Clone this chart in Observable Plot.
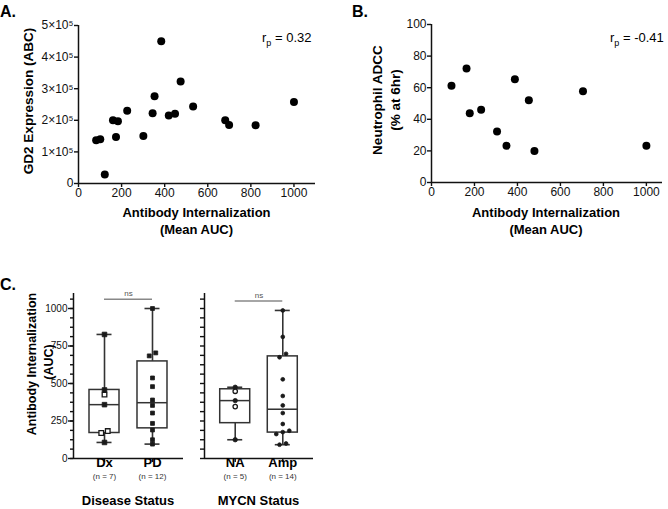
<!DOCTYPE html>
<html>
<head>
<meta charset="utf-8">
<script src="https://cdn.jsdelivr.net/npm/d3@7"></script>
<script src="https://cdn.jsdelivr.net/npm/@observablehq/plot@0.6"></script>
<style>
html,body{margin:0;padding:0;background:#fff;}
#root{position:relative;width:668px;height:509px;overflow:hidden;background:#fff;}
#root svg{position:absolute;overflow:visible;}
#root svg g[aria-label$="axis tick"] path{stroke-width:1.4px;}
</style>
</head>
<body>
<div id="root"></div>
<script>
// ---------- Panel A data ----------
const panelA_internalization = [82, 101, 122, 160, 174, 183, 226, 301, 344, 353, 384, 419, 448, 474, 532, 681, 699, 822, 1000];
const panelA_gd2 = [137000, 140000, 28500, 200000, 147000, 197000, 230000, 150000, 222000, 276000, 450000, 215000, 221000, 323000, 244000, 200000, 185000, 184000, 258000];
const panelA_r = "0.32";
// ---------- Panel B data ----------
const panelB_internalization = [93, 163, 178, 231, 305, 349, 388, 453, 479, 705, 1000];
const panelB_adcc = [61.2, 72.2, 43.9, 46.0, 32.3, 23.2, 65.4, 52.1, 20.0, 57.8, 23.2];
const panelB_r = "-0.41";
// ---------- Panel C data ----------
const diseaseCats = ["Dx", "PD"];
const diseaseN = ["(n = 7)", "(n = 12)"];
const dxValues = [827, 457, 426, 359, 183, 170, 107];
const dxOpen = [false, false, true, false, true, true, false];
const pdValues = [1000, 704, 684, 537, 479, 390, 354, 303, 234, 190, 125, 96];
const mycnCats = ["NA", "Amp"];
const mycnN = ["(n = 5)", "(n = 14)"];
const naValues = [475, 448, 386, 346, 125];
const naOpen = [false, true, false, true, false];
const ampValues = [987, 811, 698, 675, 528, 417, 354, 303, 230, 185, 176, 163, 100, 92];
// ---------- ticks ----------
const xTicksAB = [0, 200, 400, 600, 800, 1000];
const yTicksA = [0, 100000, 200000, 300000, 400000, 500000];
const yTicksB = [0, 20, 40, 60, 80, 100];
const yTicksC = [0, 250, 500, 750, 1000];
const yMinorStepC = 62.5;

const FONT = '"Liberation Sans", Arial, Helvetica, sans-serif';
const fmt = d3.format("d");
const root = document.getElementById("root");
function place(svg, left, top) {
  svg.style.position = "absolute";
  svg.style.left = left + "px";
  svg.style.top = top + "px";
  root.appendChild(svg);
  return d3.select(svg);
}
function addText(sel, {x, y, text, size = 13, weight = "bold", anchor = "middle", rotate = 0, fill = "#000"}) {
  const t = sel.append("text")
    .attr("font-family", FONT).attr("font-size", size).attr("font-weight", weight)
    .attr("fill", fill).attr("text-anchor", anchor).attr("dominant-baseline", "central");
  if (rotate) t.attr("transform", `translate(${x},${y}) rotate(${rotate})`);
  else t.attr("x", x).attr("y", y);
  t.text(text);
  return t;
}
function addR(sel, x, y, value) {
  const t = sel.append("text").attr("font-family", FONT).attr("font-size", 13)
    .attr("text-anchor", "start").attr("x", x).attr("y", y).attr("fill", "#000");
  t.append("tspan").text("r");
  t.append("tspan").attr("font-size", 9).attr("dy", 4).text("p");
  t.append("tspan").attr("dy", -4).text(" = " + value);
}

// ---------- Panel A ----------
const dataA = panelA_internalization.map((x, i) => ({x, y: panelA_gd2[i]}));
const plotA = Plot.plot({
  width: 330, height: 250, marginLeft: 78, marginRight: 15, marginTop: 25, marginBottom: 67,
  style: {fontFamily: FONT, fontSize: "12px", color: "#111", background: "transparent"},
  x: {domain: [0, 1100]},
  y: {domain: [0, 500000]},
  marks: [
    Plot.axisX({ticks: xTicksAB, tickSize: 4, tickPadding: 1, label: null, tickFormat: fmt}),
    Plot.axisY({ticks: yTicksA, tickSize: 4, tickPadding: 1, label: null,
      tickFormat: d => d === 0 ? "0" : `${d / 100000}×10⁵`}),
    Plot.ruleY([0], {strokeWidth: 1.5}),
    Plot.ruleX([0], {strokeWidth: 1.5}),
    Plot.dot(dataA, {x: "x", y: "y", r: 4, fill: "#000"})
  ]
});
const sA = place(plotA, 0, 0);
addText(sA, {x: 196.5, y: 212, text: "Antibody Internalization"});
addText(sA, {x: 196.5, y: 229.5, text: "(Mean AUC)"});
addText(sA, {x: 28, y: 101, text: "GD2 Expression (ABC)", rotate: -90, size: 13.5});
addText(sA, {x: 0, y: 11, text: "A.", anchor: "start", size: 16});
addR(sA, 262, 42, panelA_r);

// ---------- Panel B ----------
const dataB = panelB_internalization.map((x, i) => ({x, y: panelB_adcc[i]}));
const plotB = Plot.plot({
  width: 338, height: 250, marginLeft: 101, marginRight: 6, marginTop: 24, marginBottom: 68,
  style: {fontFamily: FONT, fontSize: "12px", color: "#111", background: "transparent"},
  x: {domain: [0, 1075]},
  y: {domain: [0, 100]},
  marks: [
    Plot.axisX({ticks: xTicksAB, tickSize: 4, tickPadding: 1, label: null, tickFormat: fmt}),
    Plot.axisY({ticks: yTicksB, tickSize: 4, tickPadding: 1, label: null, tickFormat: fmt}),
    Plot.ruleY([0], {strokeWidth: 1.5}),
    Plot.ruleX([0], {strokeWidth: 1.5}),
    Plot.dot(dataB, {x: "x", y: "y", r: 4, fill: "#000"})
  ]
});
const sB = place(plotB, 330, 0);
addText(sB, {x: 216, y: 212, text: "Antibody Internalization"});
addText(sB, {x: 216, y: 229.5, text: "(Mean AUC)"});
addText(sB, {x: 47.5, y: 100, text: "Neutrophil ADCC", rotate: -90, size: 13.5});
addText(sB, {x: 65, y: 100, text: "(% at 6hr)", rotate: -90, size: 13.5});
addText(sB, {x: 22, y: 11, text: "B.", anchor: "start", size: 16});
addR(sB, 280, 42, panelB_r);

// ---------- Panel C ----------
function quantile6(s, p) {
  const n = s.length, h = (n + 1) * p;
  if (h <= 1) return s[0];
  if (h >= n) return s[n - 1];
  const lo = Math.floor(h);
  return s[lo - 1] + (h - lo) * (s[lo] - s[lo - 1]);
}
function boxPanel({left, width, mL, mR, cats, nLabels, groups, nsY, title, labeled}) {
  const H = 229, mT = 13, mB = 51;
  const xmin = -0.646, xmax = 1.646, ymax = 1100;
  const pxX = (width - mL - mR) / (xmax - xmin);
  const pxY = (H - mT - mB) / ymax;
  const hw = 15 / pxX, cw = 7.5 / pxX;
  const stats = groups.map((g, i) => {
    const s = [...g.values].sort(d3.ascending);
    return {i, min: s[0], max: s[s.length - 1], q1: quantile6(s, 0.25), med: quantile6(s, 0.5), q3: quantile6(s, 0.75)};
  });
  const pts = [];
  groups.forEach((g, i) => {
    const sorted = g.values.map((v, k) => ({v, open: g.open ? g.open[k] : false})).sort((a, b) => a.v - b.v);
    const clusters = [];
    let cur = [sorted[0]];
    for (let k = 1; k < sorted.length; k++) {
      if ((sorted[k].v - sorted[k - 1].v) * pxY < 3.8) cur.push(sorted[k]);
      else { clusters.push(cur); cur = [sorted[k]]; }
    }
    clusters.push(cur);
    clusters.forEach(c => c.forEach((p, j) => {
      const off = (j - (c.length - 1) / 2) * g.spread;
      pts.push({x: i + off / pxX, y: p.v, open: p.open, symbol: g.symbol, r: g.r});
    }));
  });
  const minor = d3.range(0, ymax, yMinorStepC);
  const axisMarks = labeled ? [
    Plot.axisY({ticks: minor, tickSize: 3, tickFormat: () => "", label: null}),
    Plot.axisY({ticks: yTicksC, tickSize: 5, tickPadding: 1, label: null, fontSize: 10, tickFormat: fmt})
  ] : [
    Plot.axisY({ticks: minor, tickSize: 4, tickFormat: () => "", label: null})
  ];
  const dotMarks = [];
  ["square", "circle"].forEach(sym => [2.6, 2.2, 1.9].forEach(r => {
    const filled = pts.filter(p => p.symbol === sym && p.r === r && !p.open);
    const open = pts.filter(p => p.symbol === sym && p.r === r && p.open);
    if (filled.length) dotMarks.push(Plot.dot(filled, {x: "x", y: "y", symbol: sym, r, fill: "#1a1a1a", stroke: "#1a1a1a", strokeWidth: 0.8}));
    if (open.length) dotMarks.push(Plot.dot(open, {x: "x", y: "y", symbol: sym, r, fill: "white", stroke: "#1a1a1a", strokeWidth: 1.3}));
  }));
  const plot = Plot.plot({
    width, height: H, marginLeft: mL, marginRight: mR, marginTop: mT, marginBottom: mB,
    style: {fontFamily: FONT, fontSize: "10px", color: "#111", background: "transparent"},
    x: {domain: [xmin, xmax]},
    y: {domain: [0, ymax]},
    marks: [
      ...axisMarks,
      Plot.axisX({ticks: [0, 1], tickSize: 4, tickFormat: () => "", label: null}),
      Plot.ruleX([xmin], {strokeWidth: 1.5}),
      Plot.ruleY([0], {strokeWidth: 1.5}),
      Plot.ruleX(stats, {x: "i", y1: "q3", y2: "max", stroke: "#333", strokeWidth: 1.6}),
      Plot.ruleX(stats, {x: "i", y1: "min", y2: "q1", stroke: "#333", strokeWidth: 1.6}),
      Plot.rectY(stats, {x1: d => d.i - hw, x2: d => d.i + hw, y1: "q1", y2: "q3", fill: "white", stroke: "#333", strokeWidth: 1.5}),
      Plot.ruleY(stats, {y: "med", x1: d => d.i - hw, x2: d => d.i + hw, stroke: "#333", strokeWidth: 1.5}),
      Plot.ruleY(stats, {y: "max", x1: d => d.i - cw, x2: d => d.i + cw, stroke: "#333", strokeWidth: 1.6}),
      Plot.ruleY(stats, {y: "min", x1: d => d.i - cw, x2: d => d.i + cw, stroke: "#333", strokeWidth: 1.6}),
      ...dotMarks,
      Plot.ruleY([nsY], {x1: 0, x2: 1, stroke: "#888", strokeWidth: 1.4}),
      Plot.text([nsY], {x: 0.5, y: d => d, text: () => "ns", dy: -6, fontSize: 8, fill: "#555"}),
      Plot.text(cats, {x: (d, i) => i, text: d => d, frameAnchor: "bottom", dy: 8, fontSize: 13, fontWeight: "bold", fill: "#000"}),
      Plot.text(nLabels, {x: (d, i) => i, text: d => d, frameAnchor: "bottom", dy: 20.5, fontSize: 8, fill: "#333"})
    ]
  });
  const s = place(plot, left, 280);
  addText(s, {x: mL + (width - mL - mR) / 2, y: 220, text: title, size: 13});
  return s;
}
const sC1 = boxPanel({
  left: 0, width: 190, mL: 73, mR: 7, cats: diseaseCats, nLabels: diseaseN, nsY: 1062,
  title: "Disease Status", labeled: true,
  groups: [
    {values: dxValues, open: dxOpen, symbol: "square", r: 2.6, spread: 6.5},
    {values: pdValues, symbol: "square", r: 2.2, spread: 6.5}
  ]
});
addText(sC1, {x: 32, y: 84, text: "Antibody Internalization", rotate: -90, size: 12.5});
addText(sC1, {x: 49, y: 82, text: "(AUC)", rotate: -90, size: 12.5});
addText(sC1, {x: 0, y: 4, text: "C.", anchor: "start", size: 16});
boxPanel({
  left: 180, width: 150, mL: 24, mR: 17, cats: mycnCats, nLabels: mycnN, nsY: 1050,
  title: "MYCN Status", labeled: false,
  groups: [
    {values: naValues, open: naOpen, symbol: "circle", r: 2.2, spread: 6.5},
    {values: ampValues, symbol: "circle", r: 1.9, spread: 6.5}
  ]
});
</script>
</body>
</html>
